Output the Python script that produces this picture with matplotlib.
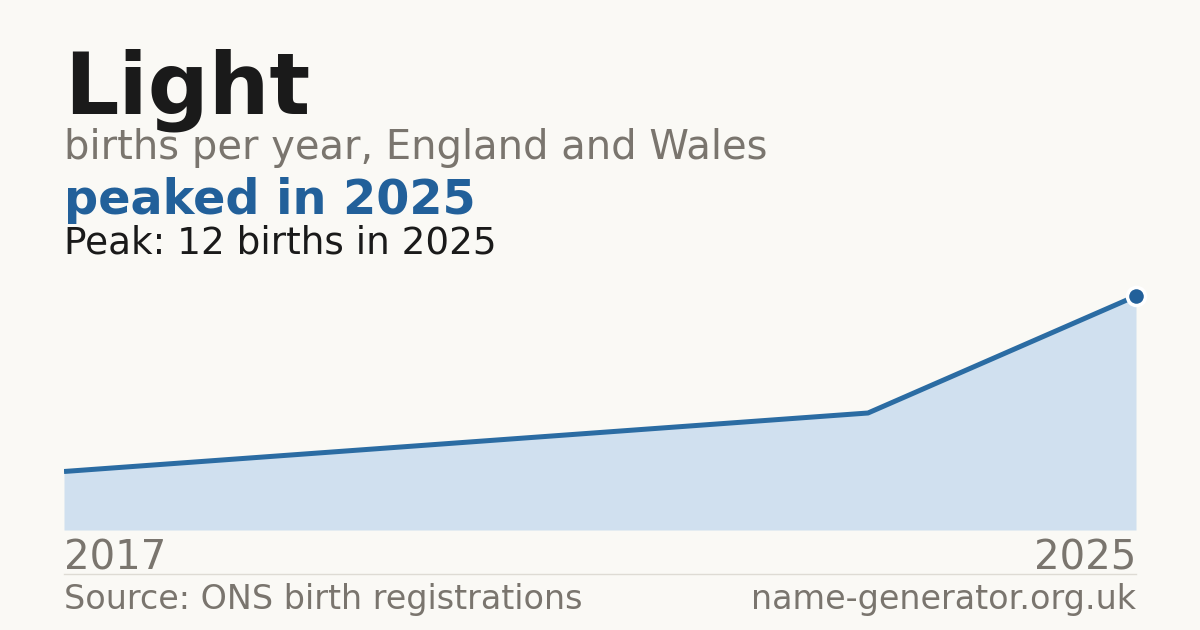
import matplotlib
matplotlib.use("Agg")
import matplotlib.pyplot as plt
from matplotlib.lines import Line2D

# data
years = [2017, 2023, 2025]
births = [3, 6, 12]
name = "Light"
peak_year = 2025
peak_value = 12

bg = "#faf9f5"
blue = "#22609a"
fill = "#d0e0ef"
grey = "#7a756e"
dark = "#1a1a1a"

fig = plt.figure(figsize=(12, 6.3), dpi=100, facecolor=bg)

# text block
fig.text(64 / 1200, 1 - 113 / 630, name, fontsize=61.5, fontweight="bold", color=dark, va="baseline")
fig.text(64 / 1200, 1 - 159 / 630, "births per year, England and Wales", fontsize=28.8, color=grey, va="baseline")
fig.text(64 / 1200, 1 - 214 / 630, f"peaked in {peak_year}", fontsize=34.4, fontweight="bold", color=blue, va="baseline")
fig.text(64 / 1200, 1 - 253 / 630, f"Peak: {peak_value} births in {peak_year}", fontsize=26.9, color=dark, va="baseline")

# chart area
ymax = peak_value * 1.1
ax = fig.add_axes([64 / 1200, 100 / 630, 1072 / 1200, (peak_value / 12 * 234 * 1.1) / 630])
ax.set_facecolor(bg)
ax.fill_between(years, births, 0, color=fill, lw=0)
ax.plot(years, births, color="#2b6ca3", lw=3.6, solid_capstyle="butt")
ax.plot([years[-1]], [births[-1]], "o", ms=13, color=blue, mec="white", mew=2.5, clip_on=False, zorder=5)
ax.set_xlim(years[0], years[-1])
ax.set_ylim(0, ymax)
ax.axis("off")

# year labels
fig.text(64 / 1200, 1 - 570 / 630, str(years[0]), fontsize=29, color=grey, va="baseline", ha="left")
fig.text(1136 / 1200, 1 - 570 / 630, str(years[-1]), fontsize=29, color=grey, va="baseline", ha="right")

# separator and footer
fig.add_artist(Line2D([64 / 1200, 1136 / 1200], [1 - 574 / 630] * 2, color="#dedbd4", lw=1))
fig.text(64 / 1200, 1 - 609 / 630, "Source: ONS birth registrations", fontsize=24, color=grey, va="baseline")
fig.text(1136 / 1200, 1 - 609 / 630, "name-generator.org.uk", fontsize=24, color=grey, va="baseline", ha="right")

fig.savefig("out.png", dpi=100, facecolor=bg)
